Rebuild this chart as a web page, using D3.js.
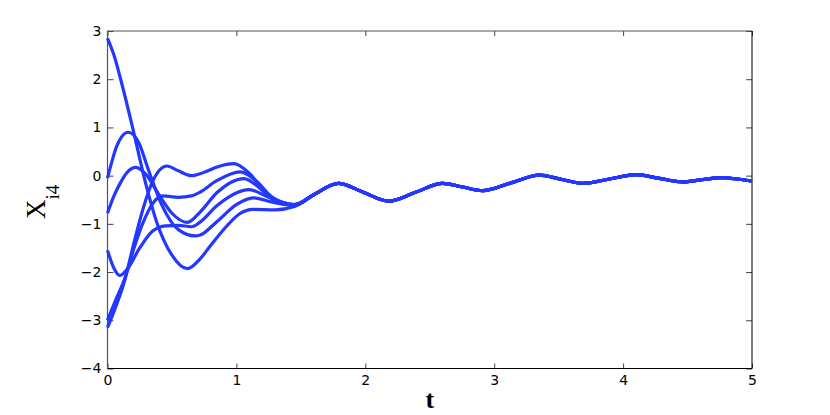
<!DOCTYPE html>
<html>
<head>
<meta charset="utf-8">
<script src="https://cdn.jsdelivr.net/npm/d3@7"></script>
<style>
  body { margin: 0; background: #fff; }
  svg { display: block; }
  .tick text { font-family: "DejaVu Sans", "Liberation Sans", Arial, sans-serif; font-size: 14px; fill: #000; }
</style>
</head>
<body>
<svg width="830" height="415"></svg>
<script>
const width = 830;
const height = 415;

// tick values
const tTicks = [0, 1, 2, 3, 4, 5];
const yTicks = [-4, -3, -2, -1, 0, 1, 2, 3];

// early part of each trajectory, [t, x_i4]
const seriesA = [[0, 2.85], [0.05, 2.5], [0.1, 2.02], [0.19, 1.05], [0.3, -0.2], [0.38, -0.95], [0.5, -1.65], [0.62, -1.93], [0.72, -1.72], [0.8, -1.45], [0.92, -1.06], [1.02, -0.8], [1.13, -0.7], [1.3, -0.71], [1.45, -0.64]];
const seriesB = [[0, -0.05], [0.035, 0.3], [0.07, 0.6], [0.16, 0.9], [0.24, 0.7], [0.32, 0.1], [0.42, -0.6], [0.55, -1.12], [0.68, -1.25], [0.72, -1.23], [0.85, -0.95], [1.0, -0.6], [1.13, -0.46], [1.28, -0.55], [1.45, -0.62]];
const seriesC = [[0, -0.78], [0.05, -0.42], [0.1, -0.15], [0.15, 0.06], [0.22, 0.17], [0.3, 0.02], [0.4, -0.4], [0.5, -0.78], [0.62, -0.97], [0.72, -0.75], [0.85, -0.35], [1.06, -0.06], [1.2, -0.3], [1.32, -0.55], [1.45, -0.61]];
const seriesD = [[0, -1.55], [0.05, -1.92], [0.095, -2.07], [0.15, -1.95], [0.25, -1.5], [0.35, -1.15], [0.45, -1.04], [0.55, -1.03], [0.65, -1.06], [0.72, -0.96], [0.85, -0.62], [1.1, -0.29], [1.25, -0.45], [1.45, -0.6]];
const seriesE = [[0, -3.0], [0.06, -2.6], [0.136, -2.12], [0.2, -1.55], [0.28, -0.95], [0.35, -0.58], [0.43, -0.42], [0.55, -0.45], [0.65, -0.42], [0.72, -0.34], [0.85, -0.1], [1.03, 0.08], [1.15, -0.1], [1.28, -0.45], [1.45, -0.6]];
const seriesF = [[0, -3.15], [0.06, -2.75], [0.136, -2.15], [0.2, -1.45], [0.28, -0.65], [0.35, -0.12], [0.46, 0.2], [0.55, 0.1], [0.65, 0.0], [0.75, 0.07], [0.85, 0.18], [0.98, 0.25], [1.1, 0.05], [1.23, -0.37], [1.33, -0.57], [1.45, -0.6]];

// after t ~ 1.5 all trajectories coincide
const tail = [[1.61, -0.38], [1.79, -0.16], [1.985, -0.345], [2.18, -0.53], [2.39, -0.345], [2.6, -0.16], [2.755, -0.235], [2.91, -0.31], [3.13, -0.15], [3.35, 0.01], [3.52, -0.075], [3.69, -0.16], [3.895, -0.07], [4.1, 0.02], [4.28, -0.055], [4.46, -0.13], [4.61, -0.085], [4.76, -0.04], [4.9, -0.075], [5.0, -0.11]];

const allSeries = [seriesA, seriesB, seriesC, seriesD, seriesE, seriesF].map(s => s.concat(tail));

// plot box
const plotLeft = 107.5, plotRight = 752, plotTop = 31, plotBottom = 368.5;

const svg = d3.select("svg");

const x = d3.scaleLinear().domain([0, 5]).range([plotLeft, plotRight]);
const y = d3.scaleLinear().domain([-4, 3]).range([plotBottom, plotTop]);

// axes, MATLAB style ticks pointing inward on all sides
svg.append("g")
  .attr("transform", `translate(0,${plotBottom})`)
  .call(d3.axisBottom(x).tickValues(tTicks).tickFormat(d3.format("d")).tickSize(-5).tickPadding(7))
  .call(g => g.select(".domain").remove());

svg.append("g")
  .attr("transform", `translate(0,${plotTop})`)
  .call(d3.axisTop(x).tickValues(tTicks).tickFormat("").tickSize(-5))
  .call(g => g.select(".domain").remove());

svg.append("g")
  .attr("transform", `translate(${plotLeft},0)`)
  .call(d3.axisLeft(y).tickValues(yTicks).tickFormat(d3.format("d")).tickSize(-6).tickPadding(6))
  .call(g => g.select(".domain").remove());

svg.append("g")
  .attr("transform", `translate(${plotRight},0)`)
  .call(d3.axisRight(y).tickValues(yTicks).tickFormat("").tickSize(-6))
  .call(g => g.select(".domain").remove());

svg.selectAll(".tick line").attr("stroke", "#444");

// box: top and left edges render softer in the original
svg.append("path")
  .attr("d", `M${plotLeft},${plotBottom}V${plotTop}H${plotRight}`)
  .attr("fill", "none")
  .attr("stroke", "#555")
  .attr("stroke-width", 1.2);
svg.append("path")
  .attr("d", `M${plotLeft},${plotBottom}H${plotRight}V${plotTop}`)
  .attr("fill", "none")
  .attr("stroke", "#000")
  .attr("stroke-width", 1);

// trajectories
const line = d3.line()
  .x(d => x(d[0]))
  .y(d => y(d[1]))
  .curve(d3.curveMonotoneX);

svg.append("g")
  .selectAll("path")
  .data(allSeries)
  .enter()
  .append("path")
  .attr("d", line)
  .attr("fill", "none")
  .attr("stroke", "#2437ff")
  .attr("stroke-width", 3.2)
  .attr("stroke-linejoin", "round");

// axis labels
svg.append("text")
  .attr("x", (plotLeft + plotRight) / 2)
  .attr("y", 408)
  .attr("text-anchor", "middle")
  .attr("font-family", "'Liberation Serif', 'Times New Roman', serif")
  .attr("font-weight", "bold")
  .attr("font-size", 26)
  .text("t");

const ylab = svg.append("text")
  .attr("transform", "translate(45,219) rotate(-90)")
  .attr("font-family", "'Liberation Serif', 'Times New Roman', serif")
  .attr("font-size", 27);
ylab.append("tspan").text("X");
ylab.append("tspan").attr("dy", 14).attr("font-size", 19).text("i4");
</script>
</body>
</html>
